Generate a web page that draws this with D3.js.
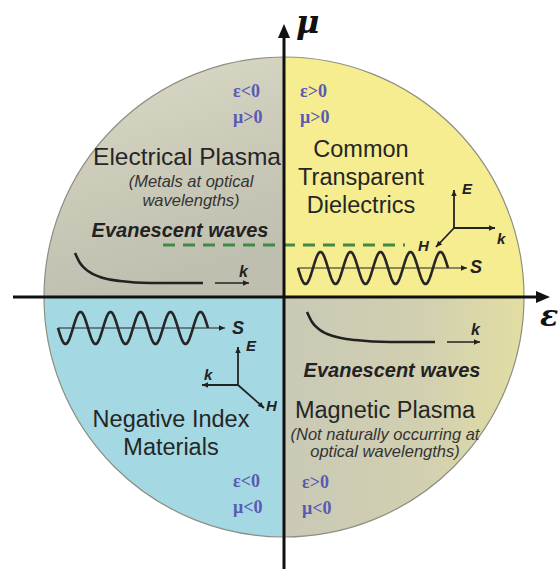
<!DOCTYPE html>
<html><head><meta charset="utf-8">
<script src="https://cdn.jsdelivr.net/npm/d3@7"></script>
<style>html,body{margin:0;padding:0;background:#fff;overflow:hidden}</style>
</head><body>
<svg id="c" width="560" height="569"></svg>
<script>
// ---------- data ----------
const quadrants = ["TL","TR","BL","BR"];
const signLabels = [["ε<0","μ>0"],["ε>0","μ>0"],["ε<0","μ<0"],["ε>0","μ<0"]];
const titleLines = [["Electrical Plasma"],["Common","Transparent","Dielectrics"],["Negative Index","Materials"],["Magnetic Plasma"]];
const noteLines = [["(Metals at optical","wavelengths)"],[],[],["(Not naturally occurring at","optical wavelengths)"]];
const evanescentLabel = "Evanescent waves";
const axisLabels = ["ε","μ"];
const vecLabels = ["E","k","H","S"];
const waveCycles = [5,5];

// ---------- layout ----------
const W=560,H=569,cx=284,cy=297,R=240;
const x=d3.scaleLinear().domain([-R,R]).range([cx-R,cx+R]);
const y=d3.scaleLinear().domain([-R,R]).range([cy-R,cy+R]);
const svg=d3.select("#c");
const defs=svg.append("defs");

function lin(id,x1,y1,x2,y2,stops){const g=defs.append("linearGradient").attr("id",id).attr("x1",x1).attr("y1",y1).attr("x2",x2).attr("y2",y2);stops.forEach(s=>g.append("stop").attr("offset",s[0]).attr("stop-color",s[1]));}
function rad(id,rx,ry,r,stops){const g=defs.append("radialGradient").attr("id",id).attr("gradientUnits","userSpaceOnUse").attr("cx",rx).attr("cy",ry).attr("r",r);stops.forEach(s=>g.append("stop").attr("offset",s[0]).attr("stop-color",s[1]));}
lin("gTL",0,0,0.3,1,[[0,"#dddcc9"],[0.5,"#cdccba"],[1,"#bfbfb0"]]);
rad("gTR",cx,cy-10,R,[[0,"#b8b7a6"],[0.3,"#d8d39c"],[0.5,"#eee68e"],[1,"#f5ed8f"]]);
rad("gBL",cx-60,cy+120,R,[[0,"#bfe5ec"],[0.6,"#ace0e8"],[1,"#a4d8e2"]]);
lin("gBR",0,0,1,0,[[0,"#c9c9b6"],[0.6,"#d2d0b0"],[1,"#e2dea2"]]);

const arc=d3.arc().innerRadius(0).outerRadius(R);
const angles=[[-Math.PI/2,0],[0,Math.PI/2],[Math.PI,1.5*Math.PI],[Math.PI/2,Math.PI]];
const g=svg.append("g").attr("transform",`translate(${cx},${cy})`);
quadrants.forEach((q,i)=>{
  g.append("path").attr("d",arc({startAngle:angles[i][0],endAngle:angles[i][1]})).attr("fill",`url(#g${q})`);
});
g.append("circle").attr("r",R).attr("fill","none").attr("stroke","#8e8e84").attr("stroke-width",1.2);

// ---------- text ----------
const font="'Liberation Sans', Arial, sans-serif";
const signPos=[[-51,-200],[16,-200],[-51,190],[18,191]];
signLabels.forEach((p,i)=>p.forEach((t,j)=>{
  svg.append("text").attr("x",x(signPos[i][0])).attr("y",y(signPos[i][1]+j*26))
    .attr("font-family","'Liberation Serif','Times New Roman',serif").attr("font-size",18).attr("font-weight","bold")
    .attr("fill","#5a5ab4").text(t);
}));
const titlePos=[[-97,-132],[77,-140],[-113,130],[101,121]];
const titleSize=[24.5,23.5,23.5,23.5];
titleLines.forEach((ls,i)=>ls.forEach((t,j)=>{
  svg.append("text").attr("x",x(titlePos[i][0])).attr("y",y(titlePos[i][1]+j*28)).attr("text-anchor","middle")
    .attr("font-family",font).attr("font-size",titleSize[i]).attr("fill","#262626").text(t);
}));
const notePos=[[-93,-110],[0,0],[0,0],[101,143]];
const noteGap=[19,0,0,17];
noteLines.forEach((ls,i)=>ls.forEach((t,j)=>{
  svg.append("text").attr("x",x(notePos[i][0])).attr("y",y(notePos[i][1]+j*noteGap[i])).attr("text-anchor","middle")
    .attr("font-family",font).attr("font-size",16.5).attr("font-style","italic").attr("fill","#333").text(t);
}));
[[-104,-60],[108,80]].forEach(p=>{
  svg.append("text").attr("x",x(p[0])).attr("y",y(p[1])).attr("text-anchor","middle")
    .attr("font-family",font).attr("font-size",20).attr("font-weight","bold").attr("font-style","italic").attr("fill","#222").text(evanescentLabel);
});

// ---------- evanescent decay curves ----------
const line=d3.line().x(d=>x(d[0])).y(d=>y(d[1])).curve(d3.curveMonotoneX);
const decayTL=[[-209,-44],[-204,-34],[-196,-26],[-184,-20],[-164,-16],[-134,-14],[-81,-14]];
const decayBR=[[23,15],[28,25],[36,33],[49,39],[71,43],[106,45],[151,45]];
[decayTL,decayBR].forEach(d=>svg.append("path").attr("d",line(d)).attr("fill","none").attr("stroke","#222").attr("stroke-width",2.6));

// small arrows
function arrow(x1,y1,x2,y2,w,head){
  svg.append("line").attr("x1",x(x1)).attr("y1",y(y1)).attr("x2",x(x2)).attr("y2",y(y2)).attr("stroke","#222").attr("stroke-width",w);
  const a=Math.atan2(y2-y1,x2-x1),L=head,Wd=head*0.45;
  const tip=[x(x2),y(y2)];
  const p1=[tip[0]-L*Math.cos(a)+Wd*Math.sin(a),tip[1]-L*Math.sin(a)-Wd*Math.cos(a)];
  const p2=[tip[0]-L*Math.cos(a)-Wd*Math.sin(a),tip[1]-L*Math.sin(a)+Wd*Math.cos(a)];
  svg.append("path").attr("d",`M${tip}L${p1}L${p2}Z`).attr("fill","#222");
}
function lab(t,px,py,fs){svg.append("text").attr("x",x(px)).attr("y",y(py)).attr("font-family",font).attr("font-size",fs||15).attr("font-weight","bold").attr("font-style","italic").attr("fill","#222").text(t);}
arrow(-69,-14,-35,-14,1.6,6); lab(vecLabels[1],-45,-20,16);
arrow(163,45,196,45,1.6,6); lab(vecLabels[1],187,38,16);

// triads
const triTR=[170,-69], triBL=[-46,88];
arrow(triTR[0],triTR[1],triTR[0],triTR[1]-38,1.8,6); lab(vecLabels[0],triTR[0]+8,triTR[1]-34);
arrow(triTR[0],triTR[1],triTR[0]+41,triTR[1],1.8,6); lab(vecLabels[1],triTR[0]+43,triTR[1]+16);
arrow(triTR[0],triTR[1],triTR[0]-18,triTR[1]+19,1.8,6); lab(vecLabels[2],triTR[0]-36,triTR[1]+23);
arrow(triBL[0],triBL[1],triBL[0],triBL[1]-38,1.8,6); lab(vecLabels[0],triBL[0]+8,triBL[1]-34);
arrow(triBL[0],triBL[1],triBL[0]-36,triBL[1],1.8,6); lab(vecLabels[1],triBL[0]-34,triBL[1]-5);
arrow(triBL[0],triBL[1],triBL[0]+26,triBL[1]+23,1.8,6); lab(vecLabels[2],triBL[0]+28,triBL[1]+26);

// propagating waves
svg.append("line").attr("x1",x(-121)).attr("y1",y(-52)).attr("x2",x(121)).attr("y2",y(-52))
  .attr("stroke","#3f8a48").attr("stroke-width",3).attr("stroke-dasharray","12,8");
function wave(x0,yc,cycles,period,amp,tipX,sx,sy){
  arrow(x0,yc,tipX,yc,1.2,6);
  const pts=d3.range(0,cycles*period+0.5,0.5).map(t=>[x0+t,yc+amp*Math.sin(2*Math.PI*t/period)]);
  svg.append("path").attr("d",d3.line().x(d=>x(d[0])).y(d=>y(d[1]))(pts)).attr("fill","none").attr("stroke","#262626").attr("stroke-width",2.6);
  lab(vecLabels[3],sx,sy,18);
}
wave(14,-29,waveCycles[0],30,16,183,186,-24);
wave(-226,31,waveCycles[1],30,16,-59,-52,37);

// ---------- main axes ----------
function bigArrow(x1,y1,x2,y2){
  const a=Math.atan2(y2-y1,x2-x1),L=14,Wd=6;
  const tip=[x(x2),y(y2)];
  svg.append("line").attr("x1",x(x1)).attr("y1",y(y1)).attr("x2",tip[0]-L*0.8*Math.cos(a)).attr("y2",tip[1]-L*0.8*Math.sin(a)).attr("stroke","#111").attr("stroke-width",3);
  const p1=[tip[0]-L*Math.cos(a)+Wd*Math.sin(a),tip[1]-L*Math.sin(a)-Wd*Math.cos(a)];
  const p2=[tip[0]-L*Math.cos(a)-Wd*Math.sin(a),tip[1]-L*Math.sin(a)+Wd*Math.cos(a)];
  svg.append("path").attr("d",`M${tip}L${p1}L${p2}Z`).attr("fill","#111");
}
bigArrow(-271,0,266,0);
bigArrow(0,272,0,-273);
svg.append("text").attr("x",x(256)).attr("y",y(29)).attr("font-family","'DejaVu Serif',serif").attr("font-size",30).attr("font-weight","bold").attr("font-style","italic").attr("fill","#111").text(axisLabels[0]);
svg.append("text").attr("x",x(12)).attr("y",y(-264)).attr("font-family","'DejaVu Serif',serif").attr("font-size",32).attr("font-weight","bold").attr("font-style","italic").attr("fill","#111").text(axisLabels[1]);
</script>
</body></html>
